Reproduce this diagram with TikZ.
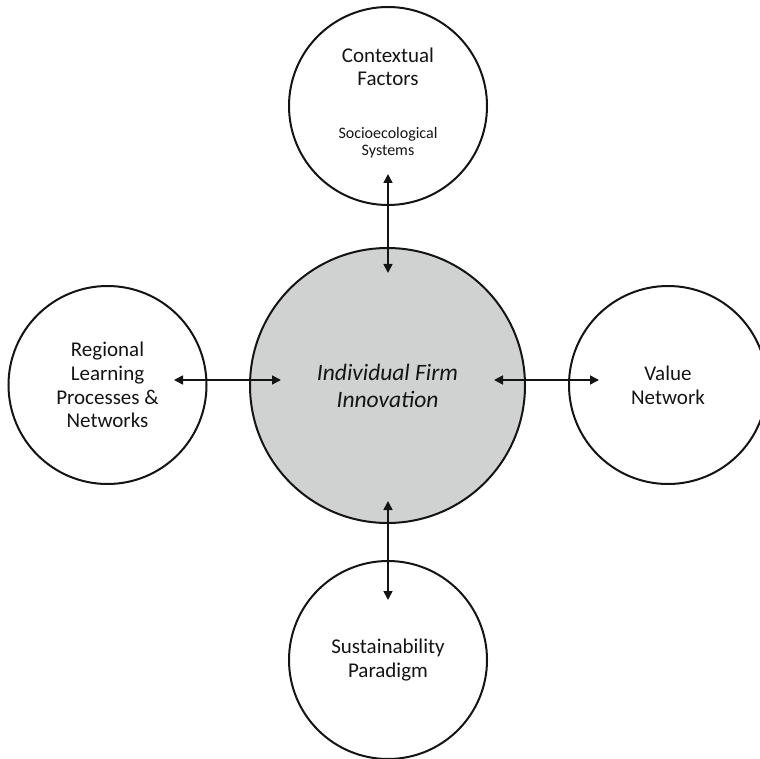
\documentclass[tikz,border=0pt]{standalone}
\usepackage{fontspec}
\setmainfont{Carlito}
\usetikzlibrary{arrows.meta}
\definecolor{corefill}{RGB}{208,209,209}
\definecolor{ink}{RGB}{20,20,20}
\begin{document}
\begin{tikzpicture}[x=1pt,y=-1pt,
  ring/.style={circle,draw=ink,line width=2pt,minimum size=198pt,inner sep=0pt,
    align=center,text=ink,font=\fontsize{21}{23.7}\selectfont},
  core/.style={circle,draw=ink,fill=corefill,line width=2pt,minimum size=275pt,inner sep=0pt},
  lbl/.style={align=center,text=ink,inner sep=0pt,font=\fontsize{21}{23.5}\selectfont},
  sublbl/.style={align=center,text=ink,inner sep=0pt,font=\fontsize{16}{17}\selectfont},
  link/.style={draw=ink,line width=1.6pt,{Triangle[length=9pt,width=9pt]}-{Triangle[length=9pt,width=9pt]}}]
  \useasboundingbox (0,0) rectangle (760,759);
  \clip (0,0) rectangle (760,759);

  % central element
  \node[core] (firm) at (387.5,385.5) {};
  \node[align=center,text=ink,inner sep=0pt,font=\fontsize{23.5}{27}\selectfont\itshape]
    (firmtxt) at (387.5,386) {Individual Firm\\Innovation};

  % surrounding elements
  \node[ring] (ctx) at (388,106) {};
  \node[lbl] (ctxtxt) at (388,67) {Contextual\\Factors};
  \node[sublbl] (ctxsub) at (388,142.5) {Socioecological\\Systems};

  \node[ring] (reg) at (107.5,385) {Regional\\Learning\\Processes \&\\Networks};
  \node[ring] (val) at (668,385) {Value\\Network};
  \node[ring] (sus) at (388,660) {\raisebox{-3pt}{\parbox{4cm}{\centering Sustainability\\Paradigm}}};

  % connector end points
  \coordinate (ctxend) at (388,174);
  \coordinate (ctxfirm) at (388,273);
  \coordinate (regend) at (174,380);
  \coordinate (regfirm) at (281,380);
  \coordinate (valfirm) at (494,380);
  \coordinate (valend) at (599,380);
  \coordinate (susfirm) at (388,501);
  \coordinate (susend) at (388,600);

  % two-way links
  \draw[link] (ctxend) -- (ctxfirm);
  \draw[link] (regend) -- (regfirm);
  \draw[link] (valfirm) -- (valend);
  \draw[link] (susfirm) -- (susend);
\end{tikzpicture}
\end{document}
